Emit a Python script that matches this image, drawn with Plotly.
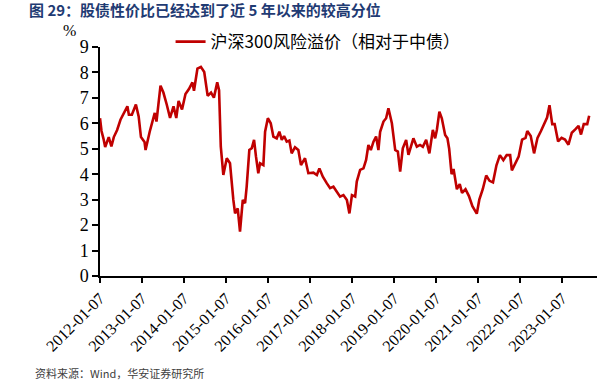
import plotly.graph_objects as go

dates = [
    "2012-01-07", "2012-01-20", "2012-02-06", "2012-02-21", "2012-03-23", "2012-04-15", "2012-05-06",
    "2012-06-04", "2012-07-03", "2012-08-17", "2012-09-01", "2012-09-14", "2012-10-10", "2012-11-14",
    "2012-12-08", "2012-12-28", "2013-01-28", "2013-02-06", "2013-03-14", "2013-04-27", "2013-05-12",
    "2013-06-16", "2013-07-11", "2013-08-09", "2013-09-07", "2013-10-07", "2013-10-31", "2013-11-20",
    "2013-12-20", "2014-01-19", "2014-02-18", "2014-03-20", "2014-04-03", "2014-05-03", "2014-06-02",
    "2014-07-01", "2014-07-31", "2014-08-29", "2014-09-23", "2014-10-22", "2014-11-07", "2014-11-22",
    "2014-12-14", "2015-01-13", "2015-02-10", "2015-03-11", "2015-03-26", "2015-04-18", "2015-05-08",
    "2015-06-01", "2015-06-21", "2015-07-05", "2015-07-28", "2015-08-18", "2015-09-07", "2015-09-24",
    "2015-10-14", "2015-10-29", "2015-11-27", "2015-12-12", "2016-01-05", "2016-01-30", "2016-02-22",
    "2016-03-22", "2016-04-14", "2016-05-05", "2016-05-25", "2016-06-17", "2016-07-10", "2016-07-30",
    "2016-08-28", "2016-09-26", "2016-10-19", "2016-11-23", "2016-12-22", "2017-02-04", "2017-03-06",
    "2017-03-28", "2017-04-27", "2017-06-01", "2017-06-29", "2017-07-28", "2017-08-27", "2017-09-24",
    "2017-10-23", "2017-11-22", "2017-12-14", "2018-01-05", "2018-02-02", "2018-02-16", "2018-03-17",
    "2018-04-15", "2018-05-08", "2018-05-28", "2018-06-18", "2018-07-11", "2018-08-03", "2018-08-23",
    "2018-09-07", "2018-10-06", "2018-10-29", "2018-11-18", "2018-12-18", "2019-01-16", "2019-02-08",
    "2019-02-28", "2019-03-23", "2019-04-21", "2019-05-11", "2019-06-09", "2019-06-23", "2019-07-23",
    "2019-08-20", "2019-09-13", "2019-10-12", "2019-11-09", "2019-12-09", "2019-12-29", "2020-01-13",
    "2020-02-04", "2020-02-25", "2020-03-25", "2020-04-14", "2020-04-29", "2020-05-20", "2020-06-06",
    "2020-07-05", "2020-07-30", "2020-08-19", "2020-09-18", "2020-10-18", "2020-11-17", "2020-12-25",
    "2021-01-16", "2021-02-15", "2021-03-17", "2021-04-15", "2021-05-15", "2021-06-14", "2021-07-14",
    "2021-08-13", "2021-09-11", "2021-10-11", "2021-10-26", "2021-12-01", "2021-12-24", "2022-01-23",
    "2022-02-22", "2022-03-09", "2022-04-08", "2022-05-07", "2022-06-06", "2022-07-06", "2022-08-05",
    "2022-08-28", "2022-09-18", "2022-10-12", "2022-11-02", "2022-12-02", "2023-01-01", "2023-01-31",
    "2023-03-02", "2023-03-31", "2023-04-30", "2023-05-29", "2023-06-19", "2023-07-13", "2023-08-12",
    "2023-08-29",
]

premium = [
    6.20, 5.70, 5.40, 5.07, 5.46, 5.09, 5.46,
    5.74, 6.14, 6.54, 6.67, 6.34, 6.34, 6.74,
    6.27, 5.46, 5.27, 4.95, 5.67, 6.41, 6.07,
    7.48, 7.21, 6.74, 6.21, 6.67, 6.21, 6.88,
    6.54, 7.15, 7.35, 7.61, 7.28, 8.15, 8.22,
    8.02, 7.08, 7.21, 7.01, 7.61, 7.30, 5.08,
    3.97, 4.63, 4.43, 2.99, 2.46, 2.66, 1.74,
    2.99, 2.86, 3.51, 4.95, 5.02, 5.35, 4.69,
    4.04, 4.43, 4.36, 5.67, 6.20, 6.00, 5.48,
    5.41, 5.67, 5.35, 5.50, 5.28, 5.32, 4.82,
    5.06, 4.95, 4.36, 4.63, 4.04, 4.06, 3.97,
    4.23, 3.90, 3.64, 3.45, 3.51, 3.31, 3.12,
    3.18, 2.99, 2.46, 3.18, 3.12, 3.71, 4.17,
    4.23, 4.56, 5.15, 4.95, 5.28, 5.48, 4.95,
    5.67, 6.07, 6.20, 6.59, 6.00, 4.95, 4.89,
    4.10, 5.02, 5.35, 4.76, 5.15, 5.41, 5.08,
    5.15, 5.08, 5.35, 4.82, 5.74, 5.41, 5.74,
    6.46, 6.20, 5.54, 5.41, 5.00, 4.00, 4.21,
    3.41, 3.61, 3.27, 3.41, 3.14, 2.74, 2.45,
    3.00, 3.41, 3.95, 3.74, 3.68, 4.35, 4.75,
    4.55, 4.75, 4.75, 4.15, 4.49, 4.69, 5.36,
    5.43, 5.70, 5.50, 4.82, 5.43, 5.70, 6.03,
    6.23, 6.71, 5.97, 5.97, 5.29, 5.43, 5.36,
    5.16, 5.63, 5.76, 5.90, 5.56, 5.97, 5.97,
    6.30,
]

tick_dates = ["2012-01-07", "2013-01-07", "2014-01-07", "2015-01-07", "2016-01-07", "2017-01-07",
              "2018-01-07", "2019-01-07", "2020-01-07", "2021-01-07", "2022-01-07", "2023-01-07"]
y_ticks = [0, 1, 2, 3, 4, 5, 6, 7, 8, 9]

series_name = "沪深300风险溢价（相对于中债）"
title_text = "图 29：股债性价比已经达到了近 5 年以来的较高分位"
source_text = "资料来源：Wind，华安证券研究所"

serif = "Liberation Serif"
cjk = "Noto Sans CJK SC"

fig = go.Figure()
fig.add_trace(go.Scatter(
    x=dates, y=premium, mode="lines", name=series_name,
    line=dict(color="#C00000", width=2.6),
))

fig.update_layout(
    width=598, height=382,
    margin=dict(l=100, r=1, t=47, b=106, autoexpand=False),
    paper_bgcolor="white", plot_bgcolor="white",
    showlegend=True,
    legend=dict(
        orientation="h", x=0.142, xanchor="left", y=1.10, yanchor="top",
        font=dict(family=cjk, size=17, color="black"),
        bgcolor="rgba(0,0,0,0)", borderwidth=0,
    ),
    xaxis=dict(
        type="date",
        range=["2012-01-07", "2023-11-05"],
        tickmode="array", tickvals=tick_dates, ticktext=tick_dates,
        tickangle=-45,
        tickfont=dict(family=serif, size=16, color="black"),
        showline=True, linecolor="black", linewidth=1.5,
        ticks="outside", ticklen=5, tickcolor="black", tickwidth=1.5,
        showgrid=False, zeroline=False, automargin=False,
    ),
    yaxis=dict(
        range=[0, 9],
        tickmode="array", tickvals=y_ticks,
        tickfont=dict(family=serif, size=18, color="black"),
        showline=True, linecolor="black", linewidth=1.5,
        ticks="outside", ticklen=6, tickcolor="black", tickwidth=1.5,
        showgrid=False, zeroline=False, automargin=False,
    ),
    annotations=[
        dict(text=title_text, xref="paper", yref="paper", x=-0.147, y=1.163,
             xanchor="left", yanchor="middle", showarrow=False,
             font=dict(family=cjk, size=15, color="#1F3B73", weight="bold")),
        dict(text="%", xref="paper", yref="paper", x=-0.045, y=1.072,
             xanchor="right", yanchor="middle", showarrow=False,
             font=dict(family=serif, size=16, color="black")),
        dict(text=source_text, xref="paper", yref="paper", x=-0.135, y=-0.38,
             xanchor="left", yanchor="top", showarrow=False,
             font=dict(family=cjk, size=11, color="#404040")),
    ],
)

fig.write_html("out.html", config={"displayModeBar": False},
               post_script="document.body.style.margin='0';")
